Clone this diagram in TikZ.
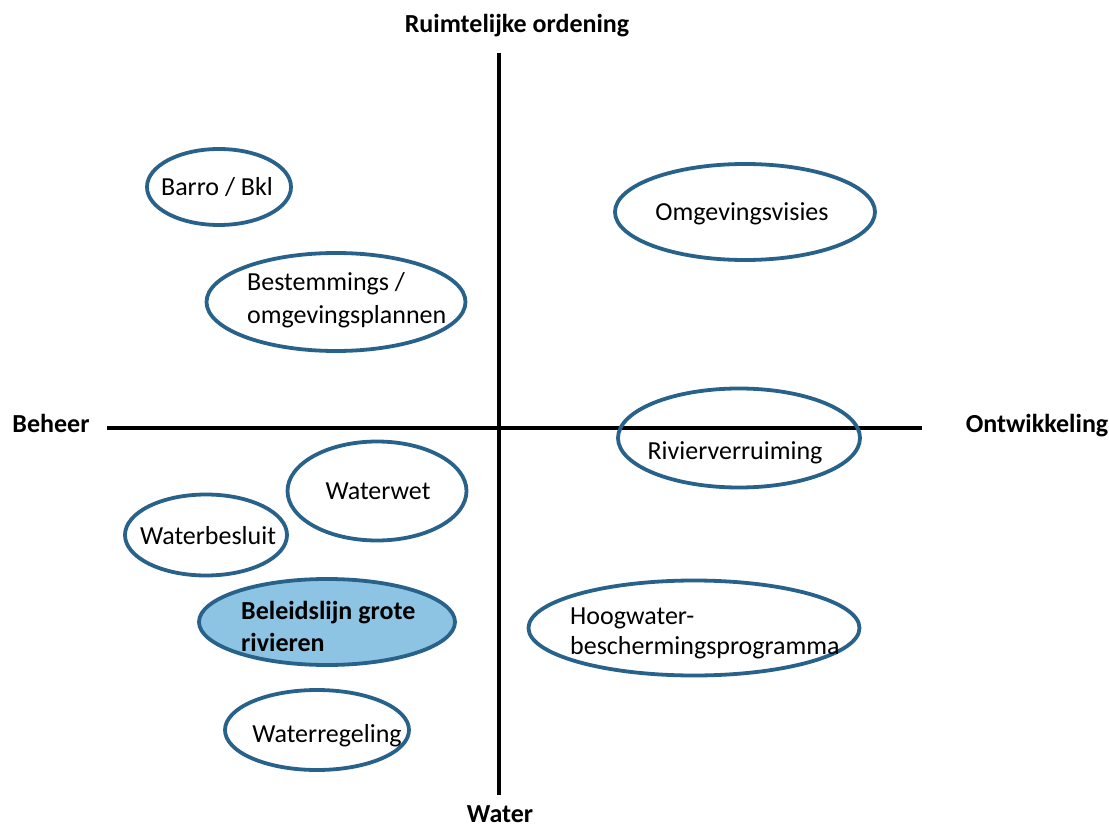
\documentclass[tikz,border=0pt]{standalone}
\usepackage{fontspec}
\setmainfont{Carlito}
\usetikzlibrary{shapes.geometric}
\definecolor{ringblue}{RGB}{40,98,138}
\definecolor{ringfill}{RGB}{141,196,228}

\begin{document}
\begin{tikzpicture}[x=1pt,y=-1pt,
  ring/.style={ellipse,draw=ringblue,line width=3.8pt,inner sep=0pt},
  txt/.style={inner sep=0pt,font=\fontsize{26}{30}\selectfont,align=left},
  axlabel/.style={inner sep=0pt,font=\fontsize{26}{30}\selectfont\bfseries}]
\useasboundingbox (0,0) rectangle (1109,829);
% axes
\coordinate (axw) at (107,428);
\coordinate (axe) at (922,428);
\coordinate (axn) at (499,53);
\coordinate (axs) at (499,795);
\draw[line width=3.2pt] (axw) -- (axe);
\draw[line width=3.2pt] (axn) -- (axs);
\node[axlabel,anchor=base] (ruimte) at (517,33) {Ruimtelijke ordening};
\node[axlabel,anchor=base] (beheer) at (51,432) {Beheer};
\node[axlabel,anchor=base] (ontw) at (1037,432) {Ontwikkeling};
\node[axlabel,anchor=base] (water) at (500,822) {Water};
% upper left
\node[ring,minimum width=144pt,minimum height=76pt] (barro) at (219,187) {};
\node[txt,anchor=base] (barro-t) at (217,196) {Barro / Bkl};
\node[ring,minimum width=259pt,minimum height=98pt] (bestem) at (336,302) {};
\node[txt,anchor=west] (bestem-t) at (247,300) {Bestemmings /\\[3pt]omgevingsplannen};
% right
\node[ring,minimum width=260pt,minimum height=96pt] (omgev) at (745,212) {};
\node[txt,anchor=base] (omgev-t) at (742,221) {Omgevingsvisies};
\node[ring,minimum width=242pt,minimum height=99pt] (rivier) at (739,438) {};
\node[txt,anchor=base] (rivier-t) at (735,459) {Rivierverruiming};
\node[ring,minimum width=331pt,minimum height=95pt] (hoogw) at (694,628) {};
\node[txt,anchor=west] (hoogw-t) at (570,633) {Hoogwater-\\beschermingsprogramma};
% lower left
\node[ring,minimum width=179pt,minimum height=99pt] (wet) at (377,491) {};
\node[txt,anchor=base] (wet-t) at (378,499) {Waterwet};
\node[ring,minimum width=162pt,minimum height=81pt] (besluit) at (206,535) {};
\node[txt,anchor=base] (besluit-t) at (208,544) {Waterbesluit};
\node[ring,fill=ringfill,minimum width=256pt,minimum height=86pt] (beleid) at (327,622) {};
\node[txt,anchor=west,font=\fontsize{26}{31}\selectfont\bfseries] (beleid-t) at (241,626) {Beleidslijn grote\\[1pt]rivieren};
\node[ring,minimum width=184pt,minimum height=80pt] (regeling) at (317,730) {};
\node[txt,anchor=base] (regeling-t) at (327,742) {Waterregeling};
\end{tikzpicture}
\end{document}
